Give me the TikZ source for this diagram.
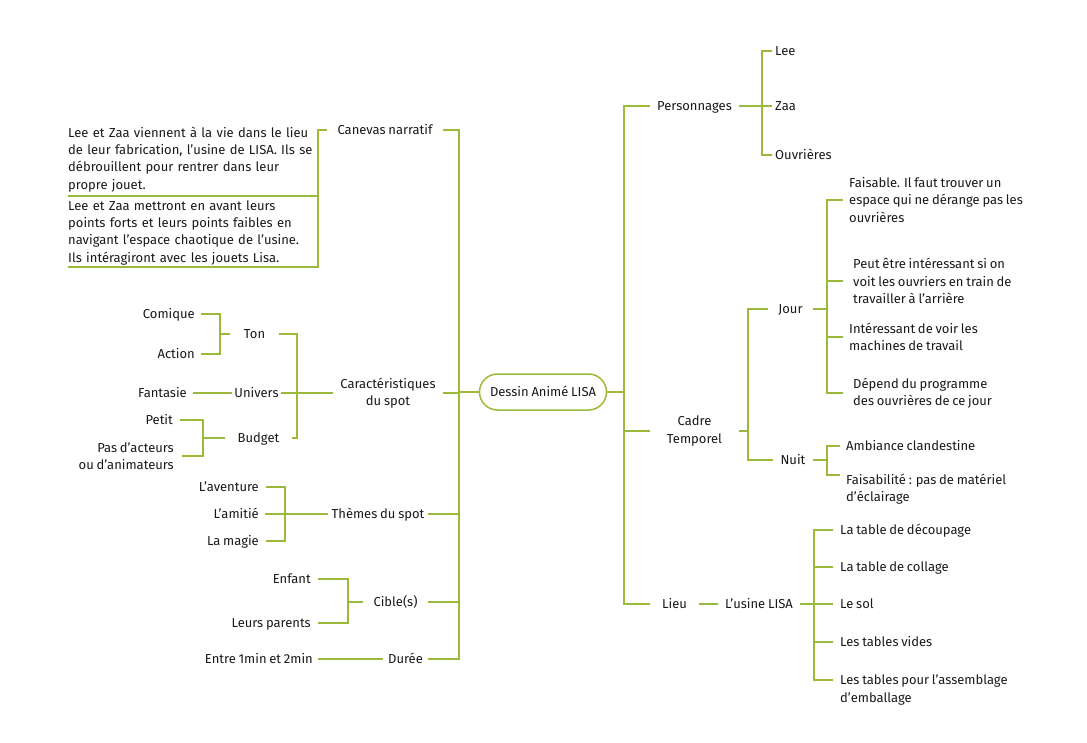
\documentclass[tikz,border=0pt]{standalone}
\usepackage{fontspec}
\setmainfont{Fira Sans}[WordSpace=0.8]
\definecolor{gr}{RGB}{156,186,58}
\definecolor{tx}{RGB}{25,25,25}
\newcommand\mfs{\fontsize{13}{17.3}\selectfont}
\begin{document}
\begin{tikzpicture}[x=1pt,y=-1pt,
  lbl/.style={inner xsep=0pt, inner ysep=0pt, text=tx, font=\mfs, align=center},
  sl/.style={lbl, text height=9pt, text depth=0pt},
  lf/.style={lbl, align=left},
  br/.style={draw=gr, line width=2pt}]
\useasboundingbox (0,0) rectangle (1087,743);
% root
\node[sl, draw=gr, line width=1.5pt, rounded corners=18pt, minimum width=127pt, minimum height=36pt] (root) at (543,392) {Dessin Animé LISA};
% x columns
\coordinate (xL) at (459,0);
\coordinate (xK) at (297,0);
\coordinate (xT) at (220,0);
\coordinate (xB) at (203,0);
\coordinate (xH) at (285,0);
\coordinate (xI) at (348,0);
\coordinate (xR) at (624,0);
\coordinate (xP) at (762,0);
\coordinate (xD) at (748,0);
\coordinate (xJ) at (827,0);
\coordinate (xU) at (814,0);
% left main
\node[sl, minimum width=116pt] (can) at (385,130) {Canevas narratif};
\node[lbl, minimum width=110pt] (car) at (388,393) {Caractéristiques\\du spot};
\node[sl, minimum width=100pt] (the) at (378,514) {Thèmes du spot};
\node[sl, minimum width=65pt] (cib) at (395.5,602) {Cible(s)};
\node[sl, minimum width=45pt] (dur) at (405.5,659) {Durée};
% canevas
\node[lf, text width=250pt, anchor=south west] (p1) at (68,192) {Lee et Zaa viennent à la vie dans le lieu\\de leur fabrication, l’usine de LISA. Ils se\\débrouillent pour rentrer dans leur\\propre jouet.};
\node[lf, text width=250pt, anchor=south west] (p2) at (68,265) {Lee et Zaa mettront en avant leurs\\points forts et leurs points faibles en\\navigant l’espace chaotique de l’usine.\\Ils intéragiront avec les jouets Lisa.};
% caracteristiques
\node[sl, minimum width=49pt] (ton) at (254.5,334) {Ton};
\node[sl, minimum width=49pt] (uni) at (256.5,393) {Univers};
\node[sl, minimum width=67pt] (bud) at (258.5,438) {Budget};
\node[sl, anchor=east, inner xsep=6pt] (com) at (201,314) {Comique};
\node[sl, anchor=east, inner xsep=6pt] (act) at (201,354) {Action};
\node[sl, anchor=east, inner xsep=6pt] (fan) at (193,393) {Fantasie};
\node[sl, anchor=east, inner xsep=7pt] (pet) at (180,420) {Petit};
\node[lbl, anchor=east, inner xsep=8pt, align=right] (pas) at (182,456) {Pas d’acteurs\\ou d’animateurs};
% themes
\node[sl, anchor=east, inner xsep=7pt] (ave) at (266,487) {L’aventure};
\node[sl, anchor=east, inner xsep=6pt] (ami) at (265,514) {L’amitié};
\node[sl, anchor=east, inner xsep=7pt] (mag) at (266,541) {La magie};
% cible
\node[sl, anchor=east, inner xsep=7pt] (enf) at (318,579) {Enfant};
\node[sl, anchor=east, inner xsep=7pt] (par) at (318,623) {Leurs parents};
\node[sl, anchor=east, inner xsep=5pt] (ent) at (318,659) {Entre 1min et 2min};
% left connectors
\draw[br] (can.east) -| (dur.east -| xL) -- (dur.east);
\draw[br] (car.east) -- (car.east -| xL);
\draw[br] (the.east) -- (the.east -| xL);
\draw[br] (cib.east) -- (cib.east -| xL);
\draw[br] (root.west) -- (root.west -| xL);
\draw[br] (can.west) -| ([yshift=-2pt]p2.south east) -- ([yshift=-2pt]p2.south west);
\draw[br] ([yshift=-4pt]p1.south west) -- ([yshift=-4pt]p1.south east);
\draw[br] (car.west) -- (car.west -| xK);
\draw[br] (ton.east) -| (bud.east -| xK) -- (bud.east);
\draw[br] (uni.east) -- (uni.east -| xK);
\draw[br] (com.east) -| (act.east -| xT) -- (act.east);
\draw[br] (ton.west) -- (ton.west -| xT);
\draw[br] (fan.east) -- (uni.west);
\draw[br] (pet.east) -| (pas.east -| xB) -- (pas.east);
\draw[br] (bud.west) -- (bud.west -| xB);
\draw[br] (ave.east) -| (mag.east -| xH) -- (mag.east);
\draw[br] (ami.east) -- (the.west);
\draw[br] (enf.east) -| (par.east -| xI) -- (par.east);
\draw[br] (cib.west) -- (cib.west -| xI);
\draw[br] (ent.east) -- (dur.west);
% right main
\node[sl, minimum width=89pt] (per) at (694.5,106) {Personnages};
\node[sl, anchor=west, inner xsep=3pt] (lee) at (772,51) {Lee};
\node[sl, anchor=west, inner xsep=3pt] (zaa) at (772,106) {Zaa};
\node[sl, anchor=west, inner xsep=3pt] (ouv) at (772,155) {Ouvrières};
\node[lbl, minimum width=89pt] (cad) at (694.5,431) {Cadre\\Temporel};
\node[sl, minimum width=45pt] (jou) at (790.5,309) {Jour};
\node[sl, minimum width=40pt] (nui) at (793,460) {Nuit};
\node[lf, anchor=west, inner xsep=6pt] (j1) at (843,200) {Faisable. Il faut trouver un\\espace qui ne dérange pas les\\ouvrières};
\node[lf, anchor=west, inner xsep=10pt] (j2) at (843,281) {Peut être intéressant si on\\voit les ouvriers en train de\\travailler à l'arrière};
\node[lf, anchor=west, inner xsep=6pt] (j3) at (843,337) {Intéressant de voir les\\machines de travail};
\node[lf, anchor=west, inner xsep=10pt] (j4) at (843,393) {Dépend du programme\\des ouvrières de ce jour};
\node[sl, anchor=west, inner xsep=6pt] (n1) at (840,446) {Ambiance clandestine};
\node[lf, anchor=north west, inner xsep=6pt] (n2) at (840,474) {Faisabilité : pas de matériel\\d'éclairage};
\coordinate (n2c) at ([yshift=-1pt]n2.north west);
\node[sl, minimum width=49pt] (lie) at (674.5,604) {Lieu};
\node[sl, minimum width=82pt] (usi) at (759,604) {L’usine LISA};
\node[sl, anchor=west, inner xsep=7pt] (u1) at (833,530) {La table de découpage};
\node[sl, anchor=west, inner xsep=7pt] (u2) at (833,567) {La table de collage};
\node[sl, anchor=west, inner xsep=7pt] (u3) at (833,604) {Le sol};
\node[sl, anchor=west, inner xsep=7pt] (u4) at (833,642) {Les tables vides};
\node[lf, anchor=north west, inner xsep=7pt] (u5) at (833,675) {Les tables pour l’assemblage\\d’emballage};
\coordinate (u5c) at ([yshift=-5pt]u5.north west);
% right connectors
\draw[br] (per.west) -| (lie.west -| xR) -- (lie.west);
\draw[br] (root.east) -- (root.east -| xR);
\draw[br] (cad.west) -- (cad.west -| xR);
\draw[br] (lee.west) -| (ouv.west -| xP) -- (ouv.west);
\draw[br] (per.east) -- (zaa.west);
\draw[br] (jou.west) -| (nui.west -| xD) -- (nui.west);
\draw[br] (cad.east) -- (cad.east -| xD);
\draw[br] (j1.west) -| (j4.west -| xJ) -- (j4.west);
\draw[br] (j2.west) -- (j2.west -| xJ);
\draw[br] (j3.west) -- (j3.west -| xJ);
\draw[br] (jou.east) -- (jou.east -| xJ);
\draw[br] (n1.west) -| (n2c -| xJ) -- (n2c);
\draw[br] (nui.east) -- (nui.east -| xJ);
\draw[br] (lie.east) -- (usi.west);
\draw[br] (u1.west) -| (u5c -| xU) -- (u5c);
\draw[br] (usi.east) -- (u3.west);
\draw[br] (u2.west) -- (u2.west -| xU);
\draw[br] (u4.west) -- (u4.west -| xU);
\end{tikzpicture}
\end{document}
